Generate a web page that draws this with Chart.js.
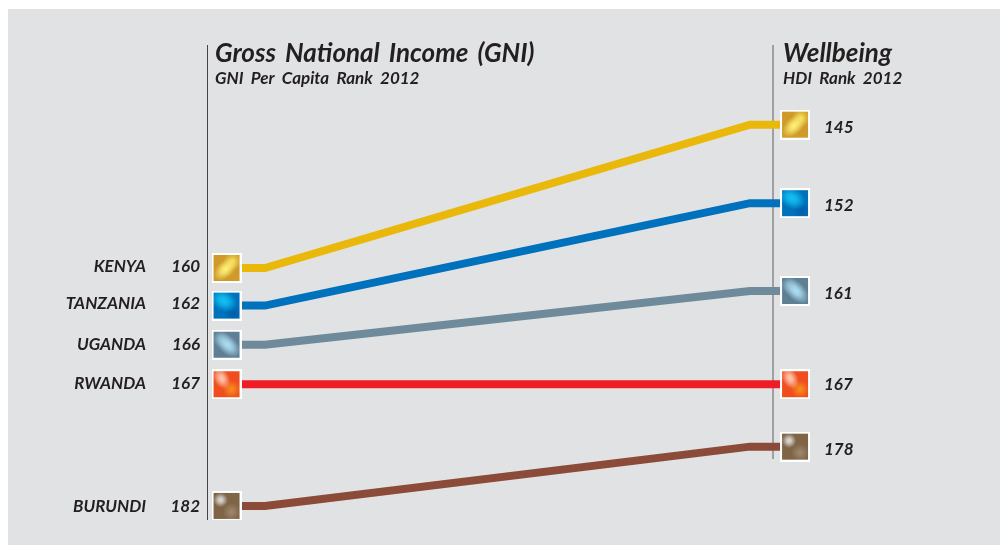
<!DOCTYPE html>
<html>
<head>
<meta charset="utf-8">
<style>
  html, body { margin: 0; padding: 0; background: #fff; overflow: hidden; }
  #panel { position: absolute; left: 8px; top: 9px; width: 992px; height: 536px; background: #e1e2e4; }
  #wrap { position: absolute; left: 0; top: 0; width: 1000px; height: 545px; }
</style>
<script src="https://cdn.jsdelivr.net/npm/chart.js@4"></script>
</head>
<body>
<div id="panel"></div>
<div id="wrap"><canvas id="gniChart" width="1000" height="545"></canvas></div>
<script>
const countries = ['KENYA', 'TANZANIA', 'UGANDA', 'RWANDA', 'BURUNDI'];
const gni_rank = [160, 162, 166, 167, 182];
const hdi_rank = [145, 152, 161, 167, 178];
// the picture does not space ranks evenly, so these are where each one sits on the rank axis
const gni_slot = [158.94, 162.59, 166.39, 170.22, 182.03];
const hdi_slot = [145.03, 152.65, 161.17, 170.22, 176.28];

// share of the way from the left rail to the right rail
const x_stops = [3.36, 10.17, 95.93, 103.9];
const left_rail = [137.3, 183.4];
const right_rail = [137.3, 177.48];

const line_colors = ['#e9b80b', '#0071bc', '#6e8a9b', '#ee1c25', '#8b4b38'];

// marker shine: base colour, glow colour, second patch colour, glow centre, angle, stretch
const marker_styles = [
    {base: '#cf9a2a', glow: '#fff27a', patch: '#f3dc55', cx: 14, cy: 16, rot: 0.8, sx: 0.65, sy: 1.1, px: 21, py: 8},
    {base: '#0072bc', glow: '#12c3f4', patch: '#005ca6', cx: 12, cy: 10, rot: 0.5, sx: 1.1, sy: 0.8, px: 22, py: 23},
    {base: '#5f7f93', glow: '#aee0f5', patch: '#7fa5bb', cx: 16, cy: 15, rot: -0.8, sx: 0.7, sy: 1.2, px: 9, py: 9},
    {base: '#f04e1e', glow: '#ffc9b2', patch: '#f7931d', cx: 10, cy: 9, rot: -0.5, sx: 0.6, sy: 0.9, px: 20, py: 20},
    {base: '#7f6546', glow: '#dcdcd8', patch: '#a08a70', cx: 9, cy: 9, rot: 0, sx: 0.55, sy: 0.55, px: 20, py: 21}
];

const label_font = '"Lato", sans-serif';
const gni_nudge = [4, 3.7, 5, 5, 6];
const hdi_nudge = [8, 7.5, 8, 6, 8];

const makeMarker = s => {
    const c = document.createElement('canvas');
    c.width = 30; c.height = 30;
    const g = c.getContext('2d');
    g.fillStyle = '#fff';
    g.fillRect(0, 0, 30, 30);
    g.beginPath();
    g.rect(2, 2, 26, 26);
    g.clip();
    g.fillStyle = s.base;
    g.fillRect(2, 2, 26, 26);

    const patch = g.createRadialGradient(s.px, s.py, 0, s.px, s.py, 9);
    patch.addColorStop(0, s.patch);
    patch.addColorStop(1, s.patch + '00');
    g.fillStyle = patch;
    g.fillRect(2, 2, 26, 26);

    g.save();
    g.translate(s.cx, s.cy);
    g.rotate(s.rot);
    g.scale(s.sx, s.sy);
    const shine = g.createRadialGradient(0, 0, 0, 0, 0, 13);
    shine.addColorStop(0, s.glow);
    shine.addColorStop(0.35, s.glow + 'cc');
    shine.addColorStop(1, s.glow + '00');
    g.fillStyle = shine;
    g.fillRect(-40, -40, 80, 80);
    g.restore();
    return c;
};

const markers = marker_styles.map(makeMarker);

const lineSets = countries.map((name, i) => ({
    label: name,
    data: [
        {x: x_stops[0], y: gni_slot[i]},
        {x: x_stops[1], y: gni_slot[i]},
        {x: x_stops[2], y: hdi_slot[i]},
        {x: x_stops[3], y: hdi_slot[i]}
    ],
    borderColor: line_colors[i],
    borderWidth: 8,
    tension: 0,
    order: 1,
    pointRadius: c => (c.dataIndex === 0 || c.dataIndex === 3) ? 15 : 0,
    pointStyle: markers[i]
}));

const railSet = (x, ys, color, width) => ({
    data: ys.map(y => ({x: x, y: y})),
    borderColor: color,
    borderWidth: width,
    pointRadius: 0,
    order: 2
});

const labelsPlugin = {
    id: 'labels',
    afterDatasetsDraw(chart) {
        const ctx = chart.ctx;
        const y = chart.scales.y;
        ctx.save();
        ctx.fillStyle = '#231f20';
        ctx.textBaseline = 'alphabetic';
        ctx.textAlign = 'right';
        ctx.font = 'italic bold 17px ' + label_font;
        countries.forEach((name, i) => {
            const py = y.getPixelForValue(gni_slot[i]) + gni_nudge[i];
            ctx.fillText(name, 146, py);
            ctx.fillText(gni_rank[i], 200, py);
        });
        ctx.textAlign = 'left';
        hdi_rank.forEach((r, i) => {
            ctx.fillText(r, 824, y.getPixelForValue(hdi_slot[i]) + hdi_nudge[i]);
        });
        ctx.font = 'italic bold 26px ' + label_font;
        ctx.wordSpacing = '3.3px';
        ctx.fillText('Gross National Income (GNI)', 215, 62);
        ctx.fillText('Wellbeing', 783, 62);
        ctx.font = 'italic bold 17px ' + label_font;
        ctx.wordSpacing = '3.5px';
        ctx.fillText('GNI Per Capita Rank 2012', 215, 84);
        ctx.fillText('HDI Rank 2012', 783, 84);
        ctx.restore();
    }
};

const ctx = document.getElementById('gniChart').getContext('2d');
let gniChart = new Chart(ctx, {
    type: 'line',
    data: {
        datasets: [
            ...lineSets,
            railSet(0, left_rail, '#2e2e30', 1),
            railSet(100, right_rail, '#8a8a8d', 1.5)
        ]
    },
    options: {
        responsive: false,
        animation: false,
        layout: {padding: {left: 207.5, right: 189, top: 45, bottom: 25}},
        scales: {
            x: {type: 'linear', display: false, min: 0, max: 106.72},
            y: {type: 'linear', display: false, reverse: true, min: 137.3, max: 183.4}
        },
        plugins: {legend: {display: false}, tooltip: {enabled: false}}
    },
    plugins: [labelsPlugin]
});
</script>
</body>
</html>
